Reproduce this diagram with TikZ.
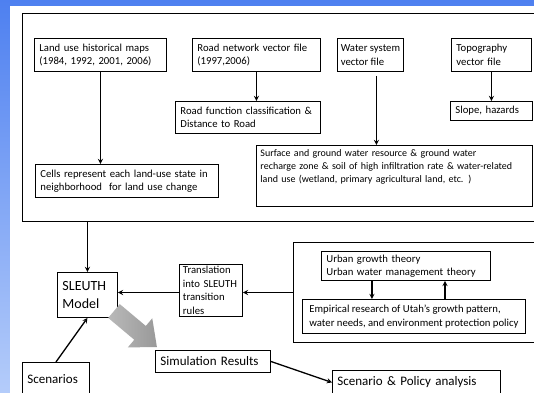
\documentclass[tikz,border=0pt]{standalone}
\usepackage{fontspec}
\setmainfont{Carlito}

\definecolor{bgtop}{RGB}{78,128,240}
\definecolor{bgbottom}{RGB}{180,204,250}

\begin{document}
\begin{tikzpicture}[x=1pt, y=-1pt,
    box/.style={draw, line width=0.9pt, anchor=north west, align=left,
        inner xsep=5pt, inner ysep=2pt, font=\fontsize{10.7}{13.5}\selectfont},
    bigbox/.style={box, font=\fontsize{13}{16}\selectfont},
    frame/.style={draw, line width=0.9pt, anchor=north west, inner sep=0pt},
    flow/.style={->, >=stealth, line width=1.3pt}]
    \clip (0, 0) rectangle (534, 392);
    \shade[top color=bgtop, bottom color=bgbottom] (0, 0) rectangle (534, 392);
    \fill[white] (10, 6) rectangle (540, 400);

    % data inputs
    \node[frame, minimum width=520pt, minimum height=208pt] (inputs) at (22, 13) {};
    \node[box, text width=122pt, minimum height=33pt] (land) at (34, 38)
        {Land use historical maps\\(1984, 1992, 2001, 2006)};
    \node[box, text width=118pt, minimum height=33pt] (road) at (192, 38)
        {Road network vector file\\(1997,2006)};
    \node[box, minimum width=66pt, minimum height=33pt, inner xsep=3pt] (water) at (337, 38)
        {Water system\\vector file};
    \node[box, text width=70pt, minimum height=33pt] (topo) at (451, 38)
        {Topography\\vector file};
    \node[box, text width=135pt, minimum height=32pt] (func) at (175, 101)
        {Road function classification \&\\Distance to Road};
    \node[box, text width=72pt, minimum height=19pt] (slope) at (450, 101)
        {Slope, hazards};
    \node[box, text width=173pt, minimum height=33pt] (cells) at (35, 164)
        {Cells represent each land-use state in\\neighborhood\ \ for land use change};
    \node[box, text width=268pt, minimum height=61pt, inner xsep=4pt, inner ysep=3pt,
        font=\fontsize{10}{13}\selectfont] (surface) at (256, 145)
        {\parbox[t][52pt][t]{268pt}{Surface and ground water resource \& ground water\\
        recharge zone \& soil of high infiltration rate \& water-related\\
        land use (wetland, primary agricultural land, etc. )}};

    \draw[flow] (land.south) -- (land.south |- cells.north);
    \draw[flow] (road.south) -- (road.south |- func.north);
    \draw[flow] ([xshift=6pt, yshift=-4pt]water.south) -- ([xshift=6pt]water.south |- surface.north);
    \draw[flow] (topo.south) -- (topo.south |- slope.north);

    % theory
    \node[frame, minimum width=250pt, minimum height=100pt] (theory) at (293, 242) {};
    \node[box, text width=159pt, minimum height=29pt] (urban) at (321, 251)
        {Urban growth theory\\Urban water management theory};
    \node[box, minimum width=223pt, minimum height=34pt, inner xsep=4pt] (emp) at (302, 299)
        {Empirical research of Utah’s growth pattern,\\water needs, and environment protection policy};
    \draw[flow] ([xshift=-34pt]urban.south) -- ([xshift=-34pt]urban.south |- emp.north);
    \draw[flow] ([xshift=39pt]urban.south |- emp.north) -- ([xshift=39pt]urban.south);

    % model
    \node[box, text width=56pt, minimum height=50pt, inner xsep=3.5pt] (trans) at (179, 264)
        {Translation\\into SLEUTH\\transition\\rules};
    \node[box, text width=50pt, minimum height=45pt, font=\fontsize{14}{18}\selectfont] (sleuth) at (57, 272)
        {SLEUTH\\Model};
    \node[bigbox, text width=57pt, minimum height=34pt] (scen) at (22, 362) {Scenarios};
    \node[bigbox, text width=105pt, minimum height=22pt] (sim) at (155, 350) {Simulation Results};
    \node[bigbox, text width=158pt, minimum height=24pt] (policy) at (332, 370) {Scenario \& Policy analysis};

    \draw[flow] (inputs.south -| sleuth.north) -- (sleuth.north);
    \draw[flow] (theory.west) -- (theory.west -| trans.east);
    \draw[flow] (trans.west |- theory.west) -- (sleuth.east |- theory.west);
    \draw[flow] (scen.north) -- (sleuth.south);
    \draw[flow] (sim.east) -- (policy.west);

    % big arrow to results
    \begin{scope}[shift={(114, 311)}, rotate=-40]
        \shade[left color=gray!55, right color=gray!80]
            (0, -9) -- (34, -9) -- (34, -19) -- (56, 0) -- (34, 19) -- (34, 9) -- (0, 9) -- cycle;
    \end{scope}
\end{tikzpicture}
\end{document}
